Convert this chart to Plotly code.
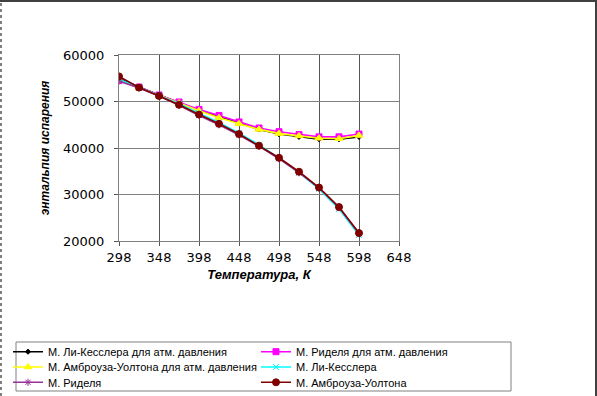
import plotly.graph_objects as go

temps = [298, 323, 348, 373, 398, 423, 448, 473, 498, 523, 548, 573, 598]

lk_atm = [55000, 53100, 51400, 49800, 48100, 46700, 45300, 44000, 43000, 42400, 41900, 41900, 42400]
riedel_atm = [54500, 53100, 51400, 49900, 48300, 47000, 45600, 44300, 43500, 42900, 42400, 42400, 43000]
ambrose_atm = [54600, 53000, 51300, 49700, 48000, 46500, 45200, 44000, 43100, 42600, 42100, 42000, 42700]
lk = [54800, 53000, 51300, 49500, 47500, 45500, 43200, 40700, 37800, 34700, 31200, 26900, 21300]
riedel = [54400, 52900, 51200, 49200, 47000, 45000, 42800, 40400, 37700, 34700, 31400, 27200, 21600]
ambrose = [55400, 53000, 51200, 49300, 47200, 45200, 43000, 40500, 37900, 34900, 31500, 27300, 21700]

x_ticks = [298, 348, 398, 448, 498, 548, 598, 648]
y_ticks = [20000, 30000, 40000, 50000, 60000]
y_ticktext = ["20000", "30000", "40000", "50000", "60000"]

names = [
    "М. Ли-Кесслера для атм. давления",
    "М. Риделя для атм. давления",
    "М. Амброуза-Уолтона для атм. давления",
    "М. Ли-Кесслера",
    "М. Риделя",
    "М. Амброуза-Уолтона",
]
series = [lk_atm, riedel_atm, ambrose_atm, lk, riedel, ambrose]
colors = ["#000000", "#FF00FF", "#FFFF00", "#00FFFF", "#993399", "#800000"]
symbols = ["diamond", "square", "triangle-up", "x-thin-open", "asterisk-open", "circle"]
sizes = [4, 6, 7, 6, 6, 7]

W, H = 597, 396
L, R, T, B = 119, 198, 55, 155
pw, ph = W - L - R, H - T - B

def px_x(p):
    return (p - L) / pw

def px_y(p):
    return (H - B - p) / ph

# legend slot positions (column text x, row center y) in pixels
leg_cols = [8, 256]
leg_rows = [351.7, 367, 382.3]

leg_font = dict(family="Liberation Sans, Arial", size=11, color="black")

fig = go.Figure()
legends = {}
for i, (name, ys, c, s, sz) in enumerate(zip(names, series, colors, symbols, sizes)):
    lid = "legend" if i == 0 else f"legend{i + 1}"
    fig.add_trace(go.Scatter(
        x=temps, y=ys, name=name, mode="lines+markers",
        line=dict(color=c, width=1.6),
        marker=dict(symbol=s, size=sz, color=c, line=dict(color=c, width=1)),
        legend=lid,
    ))
    legends[lid] = dict(
        orientation="v", x=px_x(leg_cols[i % 2]), xanchor="left",
        y=px_y(leg_rows[i // 2]), yanchor="middle",
        borderwidth=0, bgcolor="rgba(0,0,0,0)", font=leg_font, itemwidth=30,
    )

fig.update_layout(
    width=W, height=H,
    margin=dict(l=L, r=R, t=T, b=B, autoexpand=False),
    paper_bgcolor="white", plot_bgcolor="white",
    font=dict(family="Liberation Sans, Arial", size=11, color="black"),
    showlegend=True,
    xaxis=dict(
        range=[298, 648], tickmode="array", tickvals=x_ticks,
        showgrid=True, gridcolor="#555555", gridwidth=1,
        showline=True, linecolor="#808080", mirror=True,
        ticks="outside", ticklen=4, tickcolor="#555555",
        tickfont=dict(family="DejaVu Sans", size=13),
        title=dict(text="<b><i>Температура, К</i></b>", standoff=6,
                   font=dict(family="Liberation Sans, Arial", size=13)),
        zeroline=False,
    ),
    yaxis=dict(
        range=[20000, 60000], tickmode="array", tickvals=y_ticks, ticktext=y_ticktext,
        showgrid=True, gridcolor="#808080", gridwidth=1,
        showline=True, linecolor="#808080", mirror=True,
        ticks="outside", ticklen=4, tickcolor="#555555", ticklabelstandoff=7,
        tickfont=dict(family="DejaVu Sans", size=13),
        title=dict(text="<b><i>энтальпия испарения</i></b>", standoff=10,
                   font=dict(family="Liberation Sans, Arial", size=12)),
        zeroline=False,
    ),
    shapes=[
        dict(type="rect", xref="paper", yref="paper", x0=px_x(16), x1=px_x(511),
             y0=px_y(391), y1=px_y(342), line=dict(color="#808080", width=1)),
        dict(type="line", xref="paper", yref="paper", x0=px_x(0), x1=px_x(W),
             y0=px_y(1), y1=px_y(1), line=dict(color="#404040", width=2)),
        dict(type="line", xref="paper", yref="paper", x0=px_x(W - 1), x1=px_x(W - 1),
             y0=px_y(H), y1=px_y(0), line=dict(color="#404040", width=2)),
        dict(type="line", xref="paper", yref="paper", x0=px_x(1), x1=px_x(1),
             y0=px_y(H), y1=px_y(0), line=dict(color="#000000", width=1, dash="dot")),
    ],
)
fig.update_layout(**legends)

fig.write_html(
    "out.html",
    config={"displayModeBar": False},
    post_script="document.body.style.margin='0';document.body.style.padding='0';",
)
